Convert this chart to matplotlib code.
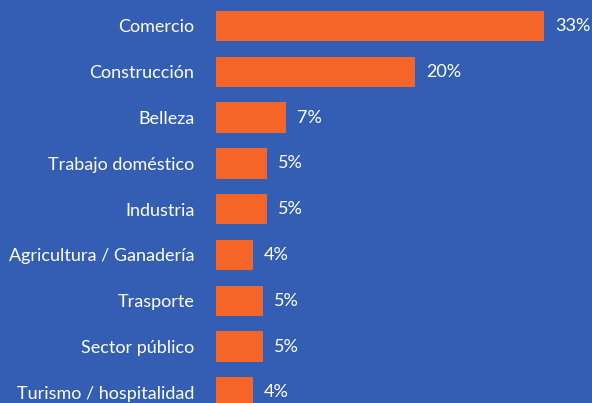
import matplotlib.pyplot as plt

# --- data ---
sectors = ["Comercio", "Construcción", "Belleza", "Trabajo doméstico", "Industria",
           "Agricultura / Ganadería", "Trasporte", "Sector público", "Turismo / hospitalidad"]
shares = [33.0, 20.0, 7.0, 5.1, 5.1, 3.7, 4.7, 4.7, 3.7]
share_labels = ["33%", "20%", "7%", "5%", "5%", "4%", "5%", "5%", "4%"]

# --- style ---
BG = "#335EB4"
BAR = "#F56527"
plt.rcParams["font.family"] = ["Lato", "DejaVu Sans"]

fig = plt.figure(figsize=(5.92, 4.03), dpi=100, facecolor=BG)
ax = fig.add_axes([216 / 592, 0, 1 - 216 / 592, 1])
ax.set_facecolor(BG)

y = range(len(sectors))
ax.barh(y, shares, height=0.66, color=BAR)

for i, (v, lab) in enumerate(zip(shares, share_labels)):
    ax.text(v + 1.1, i, lab, va="center", ha="left", color="white", fontsize=13)

ax.set_yticks(list(y))
ax.set_yticklabels(sectors, color="white", fontsize=13)
ax.tick_params(axis="y", length=0, pad=15.5)
ax.set_xticks([])
for s in ax.spines.values():
    s.set_visible(False)

ax.set_xlim(0, 376 / 9.94)
ax.set_ylim(403 / 45.8 - 26 / 45.8, -26 / 45.8)

fig.savefig("out.png", dpi=100, facecolor=BG)
